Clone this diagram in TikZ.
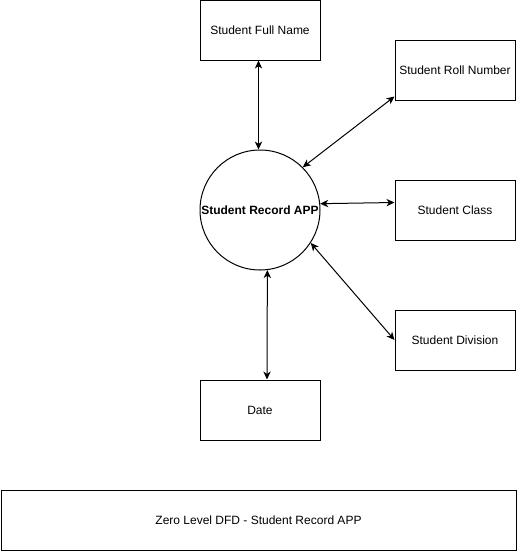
\documentclass[tikz,border=0pt]{standalone}
\usepackage{fontspec}
\setmainfont{Liberation Sans}
\usetikzlibrary{arrows.meta,calc}
\begin{document}
\begin{tikzpicture}[x=0.75pt,y=-0.75pt,
  ent/.style={draw,line width=0.75pt,minimum width=90pt,minimum height=45pt,inner sep=0pt,font=\fontsize{9}{11}\selectfont},
  proc/.style={draw,circle,line width=0.75pt,minimum size=90pt,inner sep=0pt,font=\fontsize{9}{11}\selectfont\bfseries},
  flow/.style={line width=0.75pt,{Stealth[length=6pt,width=5.5pt,inset=1.8pt]}-{Stealth[length=6pt,width=5.5pt,inset=1.8pt]}}]
\useasboundingbox (0,0) rectangle (517,551);
\node[ent] (fn) at (260,30) {Student Full Name};
\node[ent] (roll) at (455,70) {Student Roll Number};
\node[ent] (cls) at (455,210) {Student Class};
\node[ent] (div) at (455,340) {Student Division};
\node[ent] (date) at (260,410) {Date};
\node[proc] (app) at (260,210) {Student Record APP};
\node[draw,line width=0.75pt,minimum width=386.25pt,minimum height=45pt,inner sep=0pt,font=\fontsize{9}{11}\selectfont] (title) at (258.5,520) {Zero Level DFD - Student Record APP};
\draw[flow] ($(fn.south)+(-1.5,0)$) -- ($(app.north)+(-1.5,0)$);
\draw[flow] ($(roll.south west)+(0,-4)$) -- (app.45);
\draw[flow] (app.6) -- ($(cls.west)+(0,-7.5)$);
\draw[flow] (app.-33) -- (div.west);
\draw[flow] (app.-83) -- ($(date.north)+(7,0)$);
\end{tikzpicture}
\end{document}
